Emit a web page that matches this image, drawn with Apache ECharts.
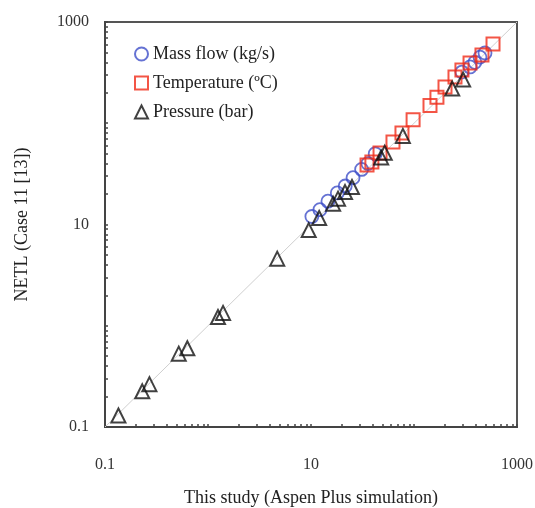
<!DOCTYPE html>
<html>
<head>
<meta charset="utf-8">
<script src="https://cdn.jsdelivr.net/npm/echarts@6/dist/echarts.min.js"></script>
<style>
  html, body { margin: 0; padding: 0; background: #fff; }
  #main { width: 535px; height: 508px; }
</style>
</head>
<body>
<div id="main"></div>
<script>
// 数据：[This study, NETL]
var massFlow = [
    [10.2, 12], [12.2, 14], [14.6, 17], [18, 20.5], [21.5, 24], [25.6, 29],
    [31, 35], [35.7, 40], [42, 50], [292, 320], [350, 360], [390, 400],
    [437, 450], [489, 494]
];
var temperature = [
    [35, 38.7], [39, 41.4], [46.8, 50.8], [62.5, 65.3], [76.4, 80.2], [98, 108],
    [143, 150], [167, 181], [200, 228], [250, 286], [292, 336], [350, 394],
    [457, 472], [585, 607]
];
var pressure = [
    [0.135, 0.13], [0.23, 0.225], [0.27, 0.265], [0.52, 0.53], [0.63, 0.6],
    [1.25, 1.22], [1.4, 1.34], [4.7, 4.6], [9.5, 8.8], [12, 11.6],
    [16.4, 16], [18.3, 18], [21.4, 20.9], [25, 23.5], [48, 46], [52, 51],
    [78, 75], [235, 220], [300, 270]
];
var parityLine = [[0.1, 0.1], [1000, 1000]];
var majorTicks = [0.1, 10, 1000];
var seriesNames = ['Mass flow (kg/s)', 'Temperature (ºC)', 'Pressure (bar)'];

// 对数坐标的小刻度 1~9 倍
var minorTicks = [];
[0.1, 1, 10, 100].forEach(function (d) {
    for (var k = 1; k <= 9; k++) {
        minorTicks.push(+(d * k).toPrecision(3));
    }
});
minorTicks.push(1000);

var font = 'Liberation Serif';

function logAxis(name, isY) {
    return {
        type: 'log',
        logBase: 10,
        min: 0.1,
        max: 1000,
        name: name,
        nameLocation: 'middle',
        nameGap: isY ? 74 : 62,
        nameTextStyle: { fontFamily: font, fontSize: 18, color: '#222' },
        axisLine: { show: true, lineStyle: { color: '#444', width: 2 } },
        axisTick: {
            show: true, inside: true, length: 3,
            customValues: minorTicks,
            lineStyle: { color: '#444', width: 1.5 }
        },
        axisLabel: {
            customValues: majorTicks,
            margin: isY ? 16 : 30,
            fontFamily: font, fontSize: 16, color: '#333',
            formatter: function (v) { return String(+v.toPrecision(3)); }
        },
        splitLine: { show: false },
        minorTick: { show: false }
    };
}

var myChart = echarts.init(document.getElementById('main'));

var option = {
    animation: false,
    backgroundColor: '#fff',
    grid: {
        left: 105, right: 18, top: 22, bottom: 81,
        outerBoundsMode: 'none',
        containLabel: false,
        show: true, borderColor: '#555', borderWidth: 2, backgroundColor: 'transparent'
    },
    legend: {
        orient: 'vertical',
        left: 129, top: 40,
        itemWidth: 13, itemHeight: 13,
        itemGap: 11,
        textStyle: { fontFamily: font, fontSize: 18, color: '#222' },
        data: seriesNames
    },
    xAxis: logAxis('This study (Aspen Plus simulation)', false),
    yAxis: logAxis('NETL (Case 11 [13])', true),
    series: [
        {
            type: 'line',
            data: parityLine,
            symbol: 'none',
            silent: true,
            lineStyle: { color: '#cfcfcf', width: 1 },
            z: 1
        },
        {
            name: seriesNames[0],
            type: 'scatter',
            data: massFlow,
            symbol: 'circle',
            symbolSize: 13,
            itemStyle: { color: 'rgba(0,0,0,0)', borderColor: '#3f4fc8', borderWidth: 1.8 },
            z: 3
        },
        {
            name: seriesNames[1],
            type: 'scatter',
            data: temperature,
            symbol: 'rect',
            symbolSize: 13,
            itemStyle: { color: 'rgba(0,0,0,0)', borderColor: '#f02a18', borderWidth: 2 },
            z: 4
        },
        {
            name: seriesNames[2],
            type: 'scatter',
            data: pressure,
            symbol: 'triangle',
            symbolSize: 14,
            itemStyle: { color: 'rgba(0,0,0,0)', borderColor: '#111', borderWidth: 2 },
            z: 5
        }
    ]
};

myChart.setOption(option);
</script>
</body>
</html>
